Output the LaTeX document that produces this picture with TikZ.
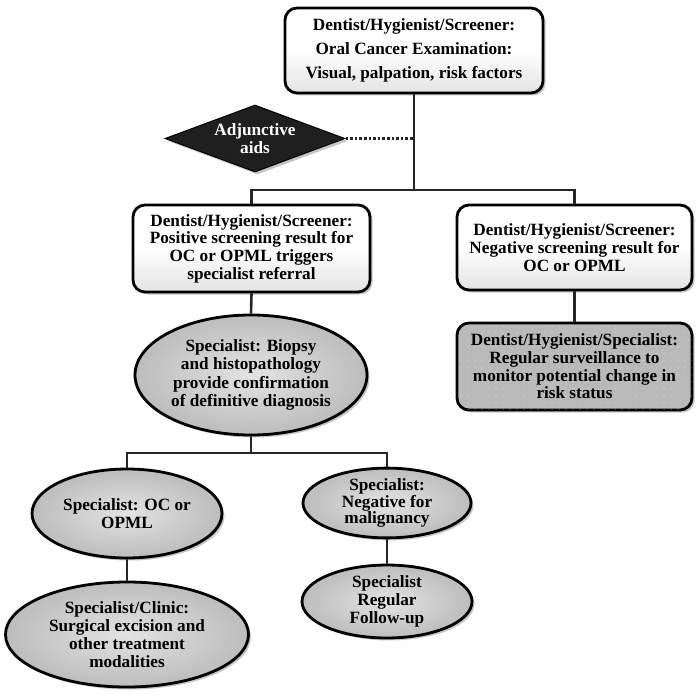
\documentclass[tikz,border=0pt]{standalone}
\usepackage{fontspec}
\setmainfont{Liberation Serif}
\usetikzlibrary{shapes.geometric,shadows,patterns.meta}
\begin{document}
\begin{tikzpicture}[x=1pt,y=-1pt,
  conn/.style={line width=2.6pt, draw=black!85},
  shad/.style={drop shadow={opacity=0.45, shadow xshift=2.5pt, shadow yshift=-2.5pt}},
  txt/.style={align=center, inner sep=0pt, font=\bfseries\fontsize{17.2}{17.7}\selectfont},
  box/.style={txt, shad, rectangle, rounded corners=12pt, draw=black, line width=2.8pt,
     top color=white, bottom color=gray!22, middle color=white},
  survbox/.style={txt, shad, rectangle, rounded corners=12pt, draw=black, line width=2.8pt,
     fill=gray!55, postaction={pattern={Dots[distance=6.5pt,radius=0.55pt]}, pattern color=white!85!gray}},
  oval/.style={txt, shad, ellipse, draw=black, line width=2.8pt,
     inner color=gray!22, outer color=gray!52, font=\bfseries\fontsize{17.2}{18}\selectfont},
  dia/.style={diamond, draw=black, line width=1pt, fill=black!88, inner sep=0pt, shad}
]
\useasboundingbox (0,0) rectangle (696,695);

\node[box, minimum width=258pt, minimum height=85pt, font=\bfseries\fontsize{17.2}{24}\selectfont]
  (top) at (414,50.5) {Dentist/Hygienist/Screener:\\Oral Cancer Examination:\\Visual, palpation, risk factors};

\node[dia, minimum width=180pt, minimum height=67pt,
  label={[txt, text=white, font=\bfseries\fontsize{17.2}{18}\selectfont]center:Adjunctive\\aids}]
  (adj) at (255,138.5) {};

\node[box, minimum width=237pt, minimum height=87pt] (pos) at (251.5,248.5)
  {Dentist/Hygienist/Screener:\\Positive screening result for\\OC or OPML triggers\\specialist referral};

\node[box, minimum width=235pt, minimum height=85pt] (neg) at (574.5,247.5)
  {Dentist/Hygienist/Screener:\\Negative screening result for\\OC or OPML};

\node[survbox, minimum width=235pt, minimum height=87pt] (surv) at (574.5,366.5)
  {Dentist/Hygienist/Specialist:\\Regular surveillance to\\monitor potential change in\\risk status};

\node[oval, minimum width=232pt, minimum height=120pt, font=\bfseries\fontsize{17.2}{18.5}\selectfont]
  (bio) at (251,375)
  {Specialist: Biopsy\\and histopathology\\provide confirmation\\of definitive diagnosis};

\node[oval, minimum width=190pt, minimum height=89pt] (oc) at (127,513.5)
  {Specialist: OC or\\OPML};

\node[oval, minimum width=243pt, minimum height=105pt] (clin) at (127,634.5)
  {Specialist/Clinic:\\Surgical excision and\\other treatment\\modalities};

\node[oval, minimum width=168pt, minimum height=68pt, font=\bfseries\fontsize{17.2}{16.8}\selectfont]
  (negm) at (387,503)
  {Specialist:\\Negative for\\malignancy};

\node[oval, minimum width=170pt, minimum height=67pt] (fol) at (387,601.5)
  {Specialist\\Regular\\Follow-up};

\coordinate (j1) at (414,190);
\coordinate (j2) at (251,453);

\begin{scope}[on background layer/.try]
\end{scope}
\draw[conn] (top.south) -- (j1);
\draw[conn] (pos.north) |- (j1) -| (neg.north);
\draw[line width=2.6pt, dotted, draw=black!85] (adj.east) -- (adj.east -| top.south);
\draw[conn] (neg.south) -- (surv.north);
\draw[conn] (pos.south) -- (bio.north);
\draw[conn] (bio.south) -- (j2);
\draw[conn] (oc.north) |- (j2) -| (negm.north);
\draw[conn] (oc.south) -- (clin.north);
\draw[conn] (negm.south) -- (fol.north);
\end{tikzpicture}
\end{document}
